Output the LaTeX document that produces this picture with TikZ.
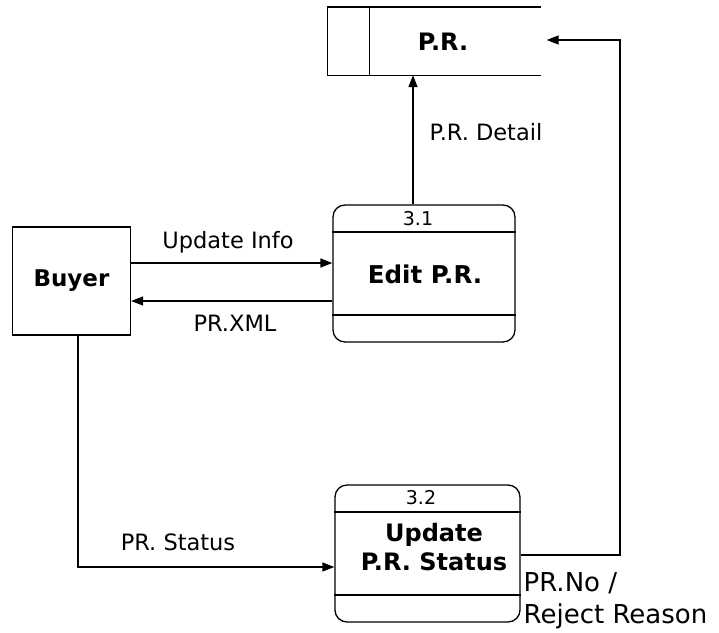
\documentclass[tikz,border=0pt]{standalone}
\usepackage{fontspec}
\setmainfont{DejaVu Sans}
\usetikzlibrary{arrows.meta}
\begin{document}
\begin{tikzpicture}[x=1pt,y=-1pt,line width=1.3pt,
  lbl/.style={font=\fontsize{22.5}{27}\selectfont,inner sep=0pt},
  ttl/.style={font=\fontsize{24}{29}\selectfont\bfseries,inner sep=0pt,align=center},
  num/.style={font=\fontsize{19}{22}\selectfont,inner sep=0pt},
  proc/.style={draw,rounded corners=12pt,inner sep=0pt},
  arr/.style={-{Triangle[length=12pt,width=9pt]}}]
\useasboundingbox (0,0) rectangle (719,632);
% data store
\node[inner sep=0pt,minimum width=212pt,minimum height=67pt] (store) at (434,41) {};
\draw (store.north east) -- (store.north west) -- (store.south west) -- (store.south east);
\draw ([xshift=42pt]store.north west) -- ([xshift=42pt]store.south west);
\node[ttl] (storetxt) at (443,42) {P.R.};
% external entity
\node[draw,inner sep=0pt,minimum width=118pt,minimum height=108pt] (buyer) at (71.5,281) {};
\node[ttl,font=\fontsize{23}{28}\selectfont\bfseries] (buyertxt) at (71.5,281) {Buyer};
% process 3.1
\node[proc,minimum width=182pt,minimum height=137pt] (edit) at (424,273.5) {};
\draw (edit.west |- 0,232) -- (edit.east |- 0,232);
\draw (edit.west |- 0,315) -- (edit.east |- 0,315);
\node[num] (n31) at (418,219) {3.1};
\node[ttl,font=\fontsize{24.5}{28}\selectfont\bfseries] (edittxt) at (425,274) {Edit P.R.};
% process 3.2
\node[proc,minimum width=185pt,minimum height=137pt] (upd) at (427.5,553.5) {};
\draw (upd.west |- 0,512) -- (upd.east |- 0,512);
\draw (upd.west |- 0,595) -- (upd.east |- 0,595);
\node[num] (n32) at (421,498) {3.2};
\node[ttl] (updtxt) at (434,547) {Update\\P.R. Status};
% flows
\draw[arr] (buyer.east |- 0,263) -- (edit.west |- 0,263);
\node[lbl] (l1) at (228,242) {Update Info};
\draw[arr] (edit.west |- 0,301) -- (buyer.east |- 0,301);
\node[lbl] (l2) at (235,323) {PR.XML};
\draw[arr] (edit.north -| 413,0) -- (store.south -| 413,0);
\node[lbl] (l3) at (486,132) {P.R. Detail};
\coordinate (b1) at (78,567);
\draw[arr] (buyer.south -| b1) -- (b1) -- (upd.west |- b1);
\node[lbl] (l4) at (178,542) {PR. Status};
\coordinate (r1) at (620,555);
\coordinate (r2) at (620,40);
\draw[arr] (upd.east |- r1) -- (r1) -- (r2) -- ([xshift=6pt]store.east |- r2);
\node[lbl,font=\fontsize{26}{30}\selectfont,anchor=west] (l5) at (523,583) {PR.No /};
\node[lbl,font=\fontsize{26}{30}\selectfont,anchor=west] (l6) at (523,616) {Reject Reason};
\end{tikzpicture}
\end{document}
